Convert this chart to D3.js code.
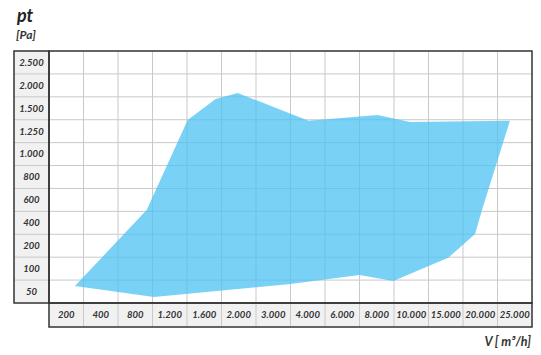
<!DOCTYPE html>
<html>
<head>
<meta charset="utf-8">
<script src="https://cdn.jsdelivr.net/npm/d3@7"></script>
<style>
  body { margin: 0; background: #fff; }
  text { font-family: Lato, "Open Sans", sans-serif; font-style: italic; font-weight: bold; fill: #333; }
</style>
</head>
<body>
<div id="chart"></div>
<script>
// categories on both axes (bottom to top for y)
const flowTicks = ['200','400','800','1.200','1.600','2.000','3.000','4.000','6.000','8.000','10.000','15.000','20.000','25.000'];
const pressureTicks = ['50','100','200','400','600','800','1.000','1.250','1.500','2.000','2.500'];

// working area outline, in grid cell units (x: column, y: row from bottom)
const areaX = [0.75, 2.83, 4.02, 4.83, 5.47, 7.52, 9.52, 10.47, 13.36, 12.55, 12.35, 11.57, 9.98, 9.0, 7.0, 3.04];
const areaY = [0.74, 4.06, 7.99, 8.91, 9.17, 7.95, 8.21, 7.90, 7.95, 4.06, 3.01, 1.97, 0.96, 1.22, 0.83, 0.26];

const width = 541, height = 355;
const plot = {left: 49, right: 532, top: 51, bottom: 303};
const labelColLeft = 14, labelRowBottom = 327;

const svg = d3.select('#chart').append('svg')
  .attr('width', width).attr('height', height);

// scales in grid units
const scaleX = d3.scaleLinear([0, flowTicks.length], [plot.left, plot.right]);
const scaleY = d3.scaleLinear([0, pressureTicks.length], [plot.bottom, plot.top]);

// label cell backgrounds
svg.append('rect')
  .attr('x', labelColLeft).attr('y', plot.top)
  .attr('width', plot.left - labelColLeft).attr('height', plot.bottom - plot.top)
  .attr('fill', '#f1f1f1');
svg.append('rect')
  .attr('x', plot.left).attr('y', plot.bottom)
  .attr('width', plot.right - plot.left).attr('height', labelRowBottom - plot.bottom)
  .attr('fill', '#f1f1f1');

// grid lines
const grid = svg.append('g').attr('stroke', '#c9c9c9').attr('stroke-width', 1);
grid.selectAll('line.v')
  .data(d3.range(1, flowTicks.length))
  .join('line')
  .attr('x1', d => scaleX(d)).attr('x2', d => scaleX(d))
  .attr('y1', plot.top).attr('y2', labelRowBottom);
grid.selectAll('line.h')
  .data(d3.range(1, pressureTicks.length))
  .join('line')
  .attr('x1', labelColLeft).attr('x2', plot.right)
  .attr('y1', d => scaleY(d)).attr('y2', d => scaleY(d));

// the working area
const area = areaX.map((x, i) => [scaleX(x), scaleY(areaY[i])]);
svg.append('path')
  .attr('d', d3.line()(area) + 'Z')
  .attr('fill', '#4cc3f2')
  .attr('fill-opacity', 0.75);

// dark borders
const border = svg.append('g').attr('fill', 'none').attr('stroke', '#333').attr('stroke-width', 1.5);
border.append('rect')
  .attr('x', plot.left).attr('y', plot.top)
  .attr('width', plot.right - plot.left).attr('height', plot.bottom - plot.top);
border.append('rect')
  .attr('x', labelColLeft).attr('y', plot.top)
  .attr('width', plot.left - labelColLeft).attr('height', plot.bottom - plot.top);
border.append('rect')
  .attr('x', plot.left).attr('y', plot.bottom)
  .attr('width', plot.right - plot.left).attr('height', labelRowBottom - plot.bottom);

// tick labels
svg.append('g').selectAll('text')
  .data(pressureTicks)
  .join('text')
  .attr('x', (labelColLeft + plot.left) / 2)
  .attr('y', (d, i) => scaleY(i + 0.5))
  .attr('dy', '0.35em')
  .attr('text-anchor', 'middle')
  .style('font-size', '9.5px')
  .text(d => d);

svg.append('g').selectAll('text')
  .data(flowTicks)
  .join('text')
  .attr('x', (d, i) => scaleX(i + 0.5))
  .attr('y', (plot.bottom + labelRowBottom) / 2)
  .attr('dy', '0.35em')
  .attr('text-anchor', 'middle')
  .style('font-size', '9.5px')
  .text(d => d);

// axis titles
svg.append('text').attr('x', 17).attr('y', 22)
  .style('font-size', '18px').style('fill', '#222').text('pt');
svg.append('text').attr('x', 16).attr('y', 39)
  .style('font-size', '12px').text('[Pa]');
svg.append('text').attr('x', 531).attr('y', 346)
  .attr('text-anchor', 'end')
  .style('font-size', '12.5px').text('V [ m³/h]');
</script>
</body>
</html>
